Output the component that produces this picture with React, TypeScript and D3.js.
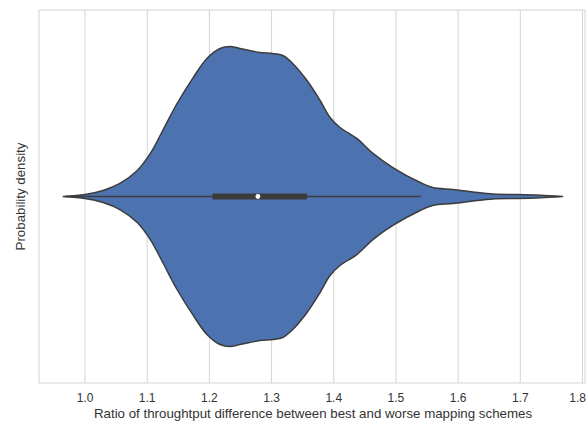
import React from "react";
import * as d3 from "d3";

// Kernel density profile of the throughput ratio (relative density, peak = 1)
const ratioValues = [
  0.965, 1.0, 1.029, 1.056, 1.084, 1.105, 1.125, 1.148, 1.174, 1.196, 1.217, 1.233,
  1.249, 1.281, 1.302, 1.318, 1.334, 1.357, 1.378, 1.394, 1.41, 1.437, 1.463, 1.495,
  1.539, 1.559, 1.592, 1.624, 1.656, 1.695, 1.732, 1.768,
];
const densityValues = [
  0, 0.013, 0.04, 0.087, 0.173, 0.287, 0.44, 0.62, 0.793, 0.92, 0.987, 1.0,
  0.987, 0.96, 0.953, 0.94, 0.887, 0.773, 0.64, 0.527, 0.46, 0.387, 0.287, 0.193,
  0.093, 0.06, 0.047, 0.03, 0.016, 0.013, 0.008, 0,
];

// Box summary
const lowerWhisker = 0.968;
const q1 = 1.205;
const median = 1.278;
const q3 = 1.357;
const upperWhisker = 1.54;

const tickValues = [1.0, 1.1, 1.2, 1.3, 1.4, 1.5, 1.6, 1.7, 1.8];
const xDomain = [0.926, 1.804];

const xTitle = "Ratio of throughtput difference between best and worse mapping schemes";
const yTitle = "Probability density";

export default function App() {
  const width = 587;
  const height = 423;
  const left = 39;
  const right = 585;
  const top = 10;
  const bottom = 383;
  const cy = (top + bottom) / 2;

  const x = d3.scaleLinear().domain(xDomain).range([left, right]);
  const w = d3.scaleLinear().domain([0, 1]).range([0, 150]);

  const pts = ratioValues.map((v, i) => ({ v, d: densityValues[i] }));
  const area = d3
    .area<{ v: number; d: number }>()
    .x((p) => x(p.v))
    .y0((p) => cy - w(p.d))
    .y1((p) => cy + w(p.d))
    .curve(d3.curveCatmullRom);
  const violinPath = area(pts) || "";

  const font = "'Liberation Sans', Arial, sans-serif";
  const textColor = "#333333";

  return (
    <svg
      width={width}
      height={height}
      style={{ position: "absolute", left: 0, top: 0, background: "#fff" }}
    >
      {/* grid */}
      {tickValues.map((t) => (
        <line
          key={t}
          x1={x(t)}
          x2={x(t)}
          y1={top}
          y2={bottom}
          stroke="#d4d4d4"
          strokeWidth={1}
        />
      ))}
      {/* frame */}
      <rect
        x={left}
        y={top}
        width={right - left}
        height={bottom - top}
        fill="none"
        stroke="#d4d4d4"
        strokeWidth={1}
      />
      {/* violin */}
      <path
        d={violinPath}
        fill="#4c72b0"
        stroke="#3c3c3c"
        strokeWidth={1.5}
        strokeLinejoin="round"
      />
      {/* whiskers */}
      <line
        x1={x(lowerWhisker)}
        x2={x(upperWhisker)}
        y1={cy}
        y2={cy}
        stroke="#3c3c3c"
        strokeWidth={1.6}
      />
      {/* interquartile box */}
      <line
        x1={x(q1)}
        x2={x(q3)}
        y1={cy}
        y2={cy}
        stroke="#3c3c3c"
        strokeWidth={6}
      />
      <circle cx={x(median)} cy={cy} r={2.4} fill="#ffffff" />
      {/* tick labels */}
      {tickValues.map((t, i) => {
        const last = i === tickValues.length - 1;
        const tx = last ? width - 1 : x(t);
        return (
          <text
            key={"l" + t}
            x={tx}
            y={402}
            textAnchor={last ? "end" : "middle"}
            fontFamily={font}
            fontSize={12}
            fill={textColor}
          >
            {t.toFixed(1)}
          </text>
        );
      })}
      <text
        x={313}
        y={417.5}
        textAnchor="middle"
        fontFamily={font}
        fontSize={13.3}
        fill={textColor}
      >
        {xTitle}
      </text>
      <text
        transform={`translate(24.5,${cy}) rotate(-90)`}
        textAnchor="middle"
        fontFamily={font}
        fontSize={13.3}
        fill={textColor}
      >
        {yTitle}
      </text>
    </svg>
  );
}
